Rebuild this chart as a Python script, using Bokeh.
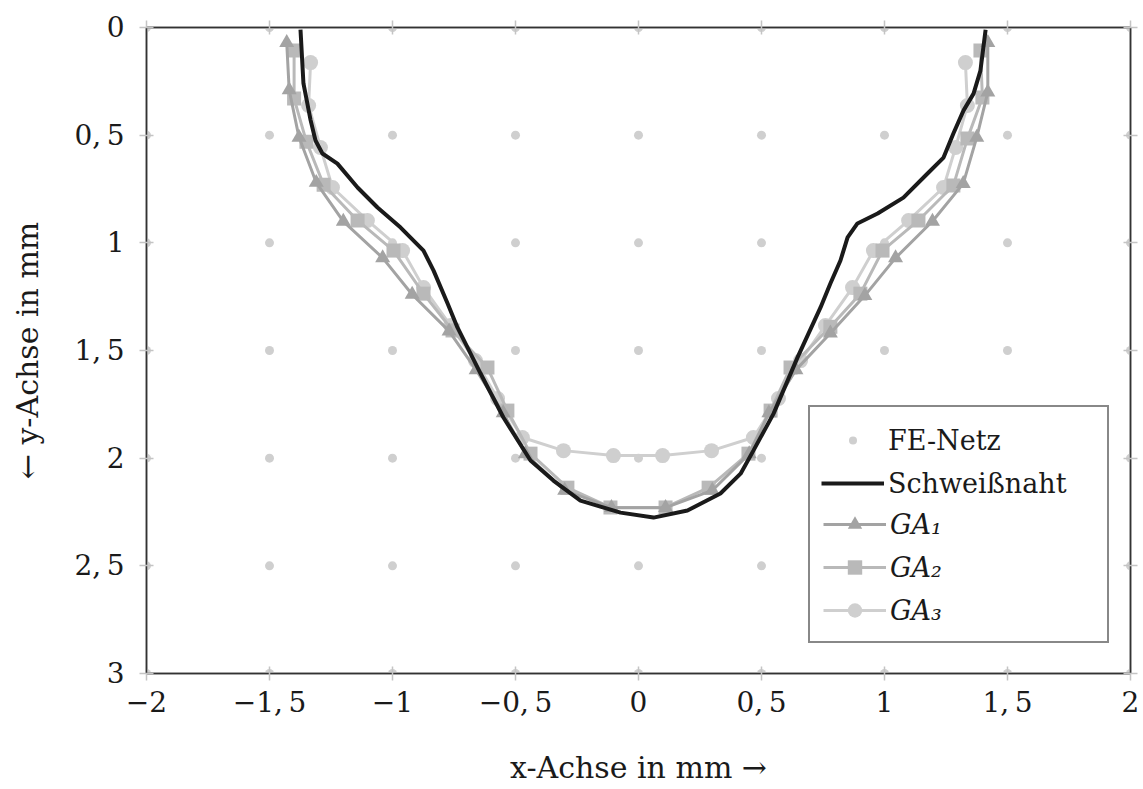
from bokeh.plotting import figure
from bokeh.models import Range1d, FixedTicker, LinearAxis, Legend, LegendItem
from bokeh.embed import file_html
from bokeh.resources import INLINE

# ---------------- data ----------------
fe_x = [-2, -1.5, -1, -0.5, 0, 0.5, 1, 1.5, 2]
fe_y = [0, 0.5, 1, 1.5, 2, 2.5, 3]

weld_x = [-1.374, -1.362, -1.333, -1.313, -1.285, -1.224, -1.142, -1.061, -0.967, -0.874,
          -0.833, -0.776, -0.736, -0.642, -0.549, -0.439, -0.346, -0.236, -0.073, 0.061,
          0.199, 0.333, 0.415, 0.467, 0.549, 0.646, 0.740, 0.780, 0.821, 0.850,
          0.890, 0.972, 1.077, 1.175, 1.240, 1.280, 1.321, 1.362, 1.390, 1.411]
weld_y = [0.01, 0.26, 0.43, 0.525, 0.585, 0.632, 0.743, 0.836, 0.929, 1.036,
          1.129, 1.282, 1.393, 1.607, 1.811, 2.011, 2.104, 2.197, 2.253, 2.276,
          2.243, 2.164, 2.072, 1.965, 1.793, 1.533, 1.30, 1.189, 1.082, 0.975,
          0.910, 0.864, 0.790, 0.678, 0.604, 0.492, 0.386, 0.307, 0.2, 0.01]

ga1_x = [-1.43, -1.42, -1.38, -1.31, -1.20, -1.04, -0.92, -0.77, -0.66, -0.55, -0.46, -0.30, -0.11,
         0.11, 0.30, 0.45, 0.53, 0.64, 0.78, 0.92, 1.045, 1.195, 1.32, 1.375, 1.42, 1.42]
ga1_y = [0.07, 0.29, 0.51, 0.72, 0.90, 1.07, 1.24, 1.41, 1.59, 1.79, 1.98, 2.15, 2.23,
         2.23, 2.15, 1.98, 1.79, 1.59, 1.42, 1.245, 1.07, 0.90, 0.725, 0.51, 0.30, 0.07]

ga2_x = [-1.40, -1.40, -1.35, -1.28, -1.142, -0.996, -0.874, -0.756, -0.614, -0.533, -0.439, -0.289, -0.114,
         0.110, 0.285, 0.447, 0.537, 0.618, 0.78, 0.902, 0.992, 1.138, 1.280, 1.337, 1.398, 1.390]
ga2_y = [0.107, 0.33, 0.53, 0.73, 0.896, 1.036, 1.236, 1.407, 1.579, 1.779, 1.979, 2.137, 2.229,
         2.229, 2.137, 1.979, 1.779, 1.579, 1.39, 1.236, 1.036, 0.896, 0.734, 0.516, 0.325, 0.107]

ga3_x = [-1.333, -1.341, -1.293, -1.244, -1.102, -0.959, -0.874, -0.764, -0.663, -0.573, -0.472, -0.305, -0.102,
         0.098, 0.297, 0.467, 0.569, 0.659, 0.760, 0.870, 0.955, 1.098, 1.240, 1.289, 1.337, 1.329]
ga3_y = [0.163, 0.362, 0.557, 0.743, 0.896, 1.036, 1.208, 1.384, 1.547, 1.723, 1.904, 1.965, 1.988,
         1.988, 1.965, 1.904, 1.723, 1.547, 1.384, 1.208, 1.036, 0.896, 0.743, 0.557, 0.362, 0.163]

x_ticks = [-2, -1.5, -1, -0.5, 0, 0.5, 1, 1.5, 2]
x_tick_labels = ["\u22122", "\u22121,\u20095", "\u22121", "\u22120,\u20095", "0", "0,\u20095", "1", "1,\u20095", "2"]
y_ticks = [0, 0.5, 1, 1.5, 2, 2.5, 3]
y_tick_labels = ["0", "0,\u20095", "1", "1,\u20095", "2", "2,\u20095", "3"]

FONT = "DejaVu Serif"

# ---------------- figure ----------------
p = figure(width=1143, height=789, output_backend="svg", toolbar_location=None,
           x_range=Range1d(-2, 2), y_range=Range1d(3, 0))
p.min_border_left = 146
p.min_border_right = 13
p.min_border_top = 27
p.min_border_bottom = 116
p.background_fill_color = "white"
p.border_fill_color = "white"
p.outline_line_color = "#333333"
p.outline_line_width = 1.5
p.xgrid.visible = False
p.ygrid.visible = False

def style_axis(ax, ticks, labels, show_labels=True):
    ax.ticker = FixedTicker(ticks=ticks)
    if show_labels:
        ax.major_label_overrides = {t: l for t, l in zip(ticks, labels)}
    else:
        ax.major_label_overrides = {t: "" for t in ticks}
    ax.minor_tick_line_color = None
    ax.major_tick_in = 7
    ax.major_tick_out = 7
    ax.major_tick_line_color = "#c4c4c4"
    ax.major_tick_line_width = 1.5
    ax.axis_line_color = "#333333"
    ax.axis_line_width = 1.5
    ax.major_label_text_font = FONT
    ax.major_label_text_font_size = "28px"
    ax.major_label_text_color = "#1a1a1a"
    ax.axis_label_text_font = FONT
    ax.axis_label_text_font_style = "normal"
    ax.axis_label_text_font_size = "30px"
    ax.axis_label_text_color = "#1a1a1a"

xa = p.xaxis[0]
ya = p.yaxis[0]
style_axis(xa, x_ticks, x_tick_labels)
style_axis(ya, y_ticks, y_tick_labels)
xa.axis_label = "x-Achse in mm \u2192"
ya.axis_label = "\u2190 y-Achse in mm"
xa.major_label_standoff = 5
ya.major_label_standoff = 15
xa.axis_label_standoff = 28
ya.axis_label_standoff = 26

top_ax = LinearAxis()
style_axis(top_ax, x_ticks, x_tick_labels, show_labels=False)
top_ax.major_label_standoff = 0
p.add_layout(top_ax, "above")
right_ax = LinearAxis()
style_axis(right_ax, y_ticks, y_tick_labels, show_labels=False)
right_ax.major_label_standoff = 0
p.add_layout(right_ax, "right")

# ---------------- glyphs ----------------
gx = [x for y in fe_y for x in fe_x]
gy = [y for y in fe_y for x in fe_x]
r_fe = p.scatter(gx, gy, marker="circle", size=9, fill_color="#cfcfcf", line_color=None)

c1, c2, c3 = "#a3a3a3", "#b9b9b9", "#cfcfcf"
l3 = p.line(ga3_x, ga3_y, line_color=c3, line_width=3)
m3 = p.scatter(ga3_x, ga3_y, marker="circle", size=15, fill_color=c3, line_color=None)
l2 = p.line(ga2_x, ga2_y, line_color=c2, line_width=3)
m2 = p.scatter(ga2_x, ga2_y, marker="square", size=14, fill_color=c2, line_color=None)
l1 = p.line(ga1_x, ga1_y, line_color=c1, line_width=3)
m1 = p.scatter(ga1_x, ga1_y, marker="triangle", size=15, fill_color=c1, line_color=None)
r_w = p.line(weld_x, weld_y, line_color="#1a1a1a", line_width=4)

# ---------------- legend ----------------
def make_legend(items, loc, style, gh):
    lg = Legend(items=items, location=loc)
    lg.label_text_font = FONT
    lg.label_text_font_size = "27px"
    lg.label_text_font_style = style
    lg.label_text_color = "#1a1a1a"
    lg.label_height = 36
    lg.glyph_height = gh
    lg.glyph_width = 63
    lg.spacing = 7
    lg.padding = 13
    lg.margin = 0
    lg.label_standoff = 4
    return lg

# frame: full box with italic GA items (first two rows left for the upright labels)
leg_b = make_legend([LegendItem(label="", renderers=[]),
                     LegendItem(label="", renderers=[]),
                     LegendItem(label="GA\u2081", renderers=[l1, m1]),
                     LegendItem(label="GA\u2082", renderers=[l2, m2]),
                     LegendItem(label="GA\u2083", renderers=[l3, m3])], (662, 30), "italic", 36)
leg_b.label_width = 204
leg_b.border_line_color = "#111111"
leg_b.border_line_width = 2
leg_b.background_fill_color = "white"
leg_b.background_fill_alpha = 1

leg_a = make_legend([LegendItem(label="FE-Netz", renderers=[r_fe]),
                     LegendItem(label="Schwei\u00dfnaht", renderers=[r_w])], (662, 159), "normal", 20)
leg_a.border_line_alpha = 0
leg_a.background_fill_alpha = 0

p.add_layout(leg_b, "center")
p.add_layout(leg_a, "center")

open("out.html", "w").write(file_html(p, INLINE))
